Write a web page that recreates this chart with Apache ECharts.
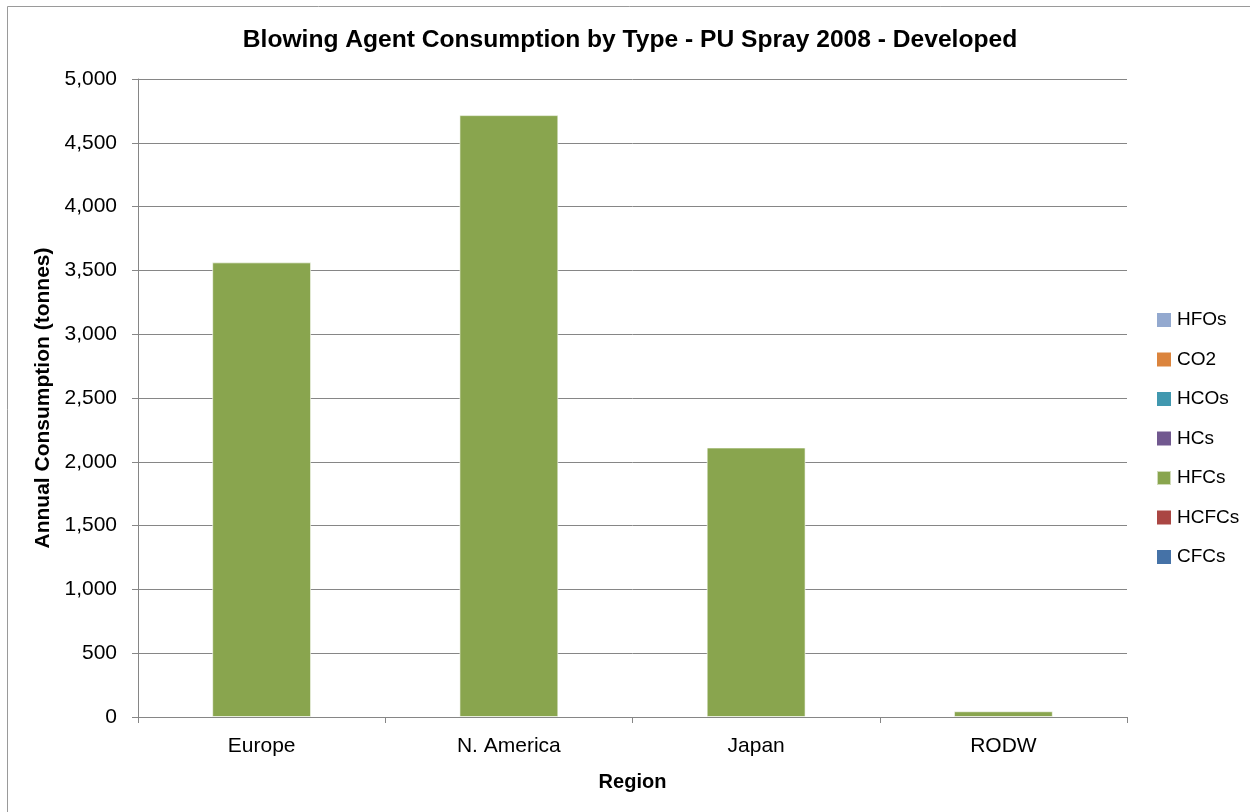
<!DOCTYPE html>
<html>
<head>
<meta charset="utf-8">
<script src="https://cdn.jsdelivr.net/npm/echarts@6/dist/echarts.min.js"></script>
<style>
  html, body { margin: 0; padding: 0; background: #fff; }
  #chart { width: 1250px; height: 812px; }
</style>
</head>
<body>
<div id="chart"></div>
<script>
// Regions along the x axis
const regions = ['Europe', 'N. America', 'Japan', 'RODW'];

// Annual consumption (tonnes) per blowing agent type
const cfcs  = [0, 0, 0, 0];
const hcfcs = [0, 0, 0, 0];
const hfcs  = [3563, 4717, 2112, 45];
const hcs   = [0, 0, 0, 0];
const hcos  = [0, 0, 0, 0];
const co2   = [0, 0, 0, 0];
const hfos  = [0, 0, 0, 0];

// Stack order bottom to top, with legend names and colours
const seriesNames  = ['CFCs', 'HCFCs', 'HFCs', 'HCs', 'HCOs', 'CO2', 'HFOs'];
const seriesData   = [cfcs, hcfcs, hfcs, hcs, hcos, co2, hfos];
const seriesColors = ['#4572a7', '#aa4643', '#89a54e', '#71588f', '#4198af', '#db843d', '#93a9cf'];

const FONT = 'Liberation Sans, Arial, sans-serif';
const axisGray = '#868686';

const chart = echarts.init(document.getElementById('chart'), null, { renderer: 'canvas' });

chart.setOption({
  animation: false,
  backgroundColor: '#fff',
  textStyle: { fontFamily: FONT, color: '#000' },
  title: {
    text: 'Blowing Agent Consumption by Type - PU Spray 2008 - Developed',
    left: 625, top: 23, textAlign: 'center',
    textStyle: { fontFamily: FONT, fontSize: 24.6, fontWeight: 'bold', color: '#000' }
  },
  legend: {
    orient: 'vertical',
    left: 1156, top: 310, padding: 0,
    itemGap: 19.5, itemWidth: 14, itemHeight: 14,
    icon: 'rect',
    data: seriesNames.slice().reverse(),
    textStyle: { fontFamily: FONT, fontSize: 19, lineHeight: 20, color: '#000', padding: [0, 0, 0, 1] }
  },
  grid: { left: 138, right: 123, top: 79, bottom: 95, containLabel: false },
  xAxis: {
    type: 'category',
    data: regions,
    name: 'Region', nameLocation: 'middle', nameGap: 55,
    nameTextStyle: { fontFamily: FONT, fontSize: 20, fontWeight: 'bold', color: '#000', verticalAlign: 'top' },
    axisLine: { lineStyle: { color: axisGray, width: 1 } },
    axisTick: { show: true, length: 6, alignWithLabel: false, lineStyle: { color: axisGray } },
    axisLabel: { fontFamily: FONT, fontSize: 21, color: '#000', margin: 19 }
  },
  yAxis: {
    type: 'value', min: 0, max: 5000, interval: 500,
    name: 'Annual Consumption (tonnes)', nameLocation: 'middle', nameGap: 80,
    nameTextStyle: { fontFamily: FONT, fontSize: 21, fontWeight: 'bold', color: '#000' },
    axisLine: { show: true, lineStyle: { color: axisGray, width: 1 } },
    axisTick: { show: true, length: 6, lineStyle: { color: axisGray } },
    axisLabel: {
      fontFamily: FONT, fontSize: 21, color: '#000', margin: 21,
      formatter: v => v.toLocaleString('en-US')
    },
    splitLine: { show: true, lineStyle: { color: axisGray, width: 1 } }
  },
  series: seriesNames.map((name, i) => ({
    name: name,
    type: 'bar',
    stack: 'total',
    data: seriesData[i],
    barWidth: '40%',
    itemStyle: { color: seriesColors[i], borderColor: 'rgba(255,255,255,0.6)', borderWidth: i === 2 ? 1 : 0 }
  })),
  graphic: [{
    type: 'rect',
    shape: { x: 7.5, y: 6.5, width: 1260, height: 830 },
    style: { fill: null, stroke: '#9a9a9a', lineWidth: 1 },
    silent: true
  }]
});
</script>
</body>
</html>
